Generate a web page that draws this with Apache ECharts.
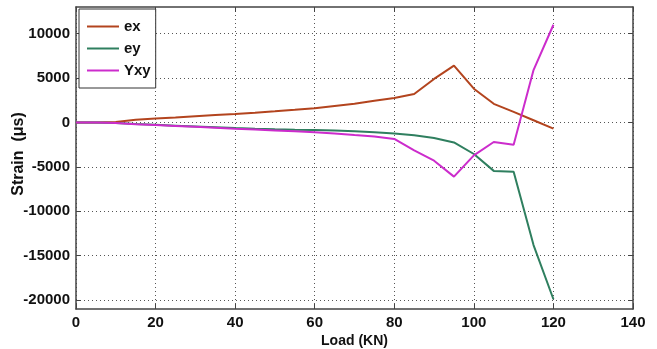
<!DOCTYPE html>
<html>
<head>
<meta charset="utf-8">
<script src="https://cdn.jsdelivr.net/npm/echarts@6/dist/echarts.min.js"></script>
<style>
  html, body { margin: 0; padding: 0; background: #fff; }
  #chart { width: 657px; height: 349px; }
</style>
</head>
<body>
<div id="chart"></div>
<script>
// load steps (kN)
const loads = [0, 5, 10, 15, 20, 25, 30, 35, 40, 45, 50, 55, 60, 65, 70, 75, 80, 85, 90, 95, 100, 105, 110, 115, 120];

// strain readings (microstrain)
const exValues = [0, 0, 50, 300, 450, 560, 700, 830, 960, 1100, 1250, 1420, 1600, 1850, 2100, 2450, 2750, 3200, 4900, 6400, 3800, 2100, 1200, 250, -700];
const eyValues = [0, 0, -50, -180, -270, -360, -450, -540, -630, -700, -760, -810, -850, -900, -980, -1100, -1250, -1450, -1750, -2250, -3550, -5450, -5550, -13800, -19900];
const yxyValues = [0, 0, -60, -200, -290, -390, -490, -590, -700, -800, -900, -1000, -1100, -1250, -1420, -1580, -1850, -3150, -4300, -6100, -3700, -2200, -2500, 5900, 11000];

const xTicks = [0, 20, 40, 60, 80, 100, 120, 140];
const yTicks = [-20000, -15000, -10000, -5000, 0, 5000, 10000];

const seriesNames = ["ex", "ey", "Yxy"];
const seriesColors = ["#b3441e", "#2f7f5f", "#cc2ccc"];

const pair = (vals) => loads.map((x, i) => [x, vals[i]]);

const chart = echarts.init(document.getElementById("chart"));

const font = "'Liberation Sans', Arial, sans-serif";
const frameColor = "#444";
const gridLine = { show: true, lineStyle: { color: "#555", type: [1, 3], width: 1 } };
const plain = (v) => String(v);

const option = {
  animation: false,
  backgroundColor: "#fff",
  grid: { left: 76, right: 24, top: 7, bottom: 40, containLabel: false, outerBoundsMode: "none" },
  legend: {
    orient: "vertical",
    left: 79,
    top: 9,
    backgroundColor: "#fff",
    borderColor: "#333",
    borderWidth: 1,
    padding: [10, 5, 10, 8],
    itemGap: 7,
    itemWidth: 32,
    itemHeight: 2,
    icon: "rect",
    textStyle: { fontFamily: font, fontWeight: "bold", fontSize: 15, color: "#111" },
    data: seriesNames
  },
  xAxis: [
    {
      type: "value",
      min: xTicks[0],
      max: xTicks[xTicks.length - 1],
      interval: 20,
      name: "Load (KN)",
      nameLocation: "middle",
      nameGap: 25,
      nameMoveOverlap: false,
      nameTextStyle: { fontFamily: font, fontWeight: "bold", fontSize: 14, color: "#111" },
      axisLine: { show: true, onZero: false, lineStyle: { color: frameColor, width: 1.5 } },
      axisTick: { show: true, inside: true, length: 5, lineStyle: { color: frameColor } },
      axisLabel: { formatter: plain, fontFamily: font, fontWeight: "bold", fontSize: 15, color: "#111", margin: 6 },
      splitLine: gridLine
    },
    {
      type: "value",
      position: "top",
      min: xTicks[0],
      max: xTicks[xTicks.length - 1],
      interval: 20,
      axisLine: { show: true, onZero: false, lineStyle: { color: frameColor, width: 1.5 } },
      axisTick: { show: true, inside: true, length: 5, lineStyle: { color: frameColor } },
      axisLabel: { show: false },
      splitLine: { show: false }
    }
  ],
  yAxis: [
    {
      type: "value",
      min: -21000,
      max: 13000,
      name: "Strain  (μs)",
      nameLocation: "middle",
      nameGap: 49,
      nameMoveOverlap: false,
      nameTextStyle: { fontFamily: font, fontWeight: "bold", fontSize: 16, color: "#111", padding: [0, 0, 0, 8] },
      axisLine: { show: true, onZero: false, lineStyle: { color: frameColor, width: 1.5 } },
      axisTick: { show: true, inside: true, length: 5, customValues: yTicks, lineStyle: { color: frameColor } },
      axisLabel: { customValues: yTicks, formatter: plain, fontFamily: font, fontWeight: "bold", fontSize: 15, color: "#111", margin: 6 },
      splitLine: gridLine
    },
    {
      type: "value",
      position: "right",
      min: -21000,
      max: 13000,
      axisLine: { show: true, onZero: false, lineStyle: { color: frameColor, width: 1.5 } },
      axisTick: { show: true, inside: true, length: 5, customValues: yTicks, lineStyle: { color: frameColor } },
      axisLabel: { show: false },
      splitLine: { show: false }
    }
  ],
  series: [exValues, eyValues, yxyValues].map((vals, i) => ({
    name: seriesNames[i],
    type: "line",
    xAxisIndex: 0,
    yAxisIndex: 0,
    data: pair(vals),
    symbol: "none",
    smooth: false,
    color: seriesColors[i],
    lineStyle: { width: 2, color: seriesColors[i] },
    z: 3 + (i === 2 ? 1 : 0)
  }))
};

chart.setOption(option);
</script>
</body>
</html>
